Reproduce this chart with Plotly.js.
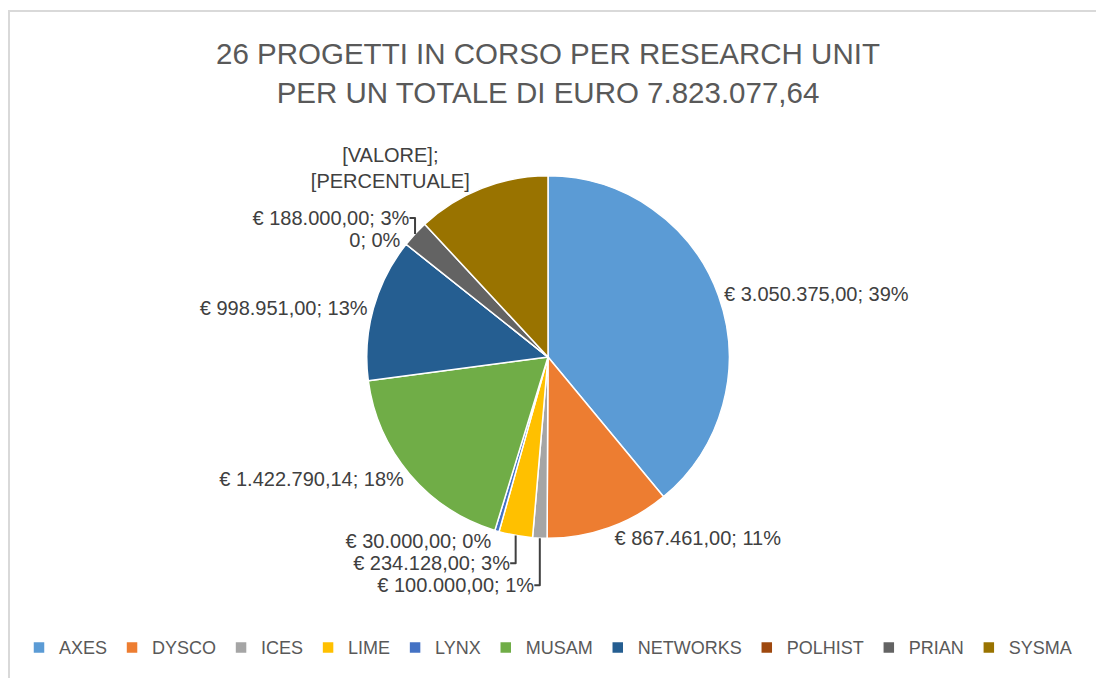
<!DOCTYPE html>
<html>
<head>
<meta charset="utf-8">
<script src="https://cdn.plot.ly/plotly-3.0.1.min.js"></script>
<style>
  html, body { margin: 0; padding: 0; background: #ffffff; }
  #wrap { position: relative; width: 1096px; height: 678px; overflow: hidden; }
  #frame { position: absolute; left: 8px; top: 10px; width: 1200px; height: 800px; border: 2px solid #d9d9d9; box-sizing: border-box; }
  #chart { position: absolute; left: 0; top: 0; width: 1096px; height: 678px; }
</style>
</head>
<body>
<div id="wrap">
  <div id="frame"></div>
  <div id="chart"></div>
</div>
<script>
// Research units (categories)
const units = ["AXES", "DYSCO", "ICES", "LIME", "LYNX", "MUSAM", "NETWORKS", "POLHIST", "PRIAN", "SYSMA"];
// Funding in euro per unit (SYSMA not printed: total minus the others)
const amounts = [3050375.00, 867461.00, 100000.00, 234128.00, 30000.00, 1422790.14, 998951.00, 0, 188000.00, 931372.50];
// Percentages as printed on the chart labels (SYSMA shows a placeholder)
const shownPercent = [39, 11, 1, 3, 0, 18, 13, 0, 3, null];
const colors = ["#5B9BD5", "#ED7D31", "#A5A5A5", "#FFC000", "#4472C4", "#70AD47", "#255E91", "#9E480E", "#636363", "#997300"];
const titleLines = ["26 PROGETTI IN CORSO PER RESEARCH UNIT", "PER UN TOTALE DI EURO 7.823.077,64"];

function euro(v) {
  if (v === 0) return "0";
  const parts = v.toFixed(2).split(".");
  const intPart = parts[0].replace(/\B(?=(\d{3})+(?!\d))/g, ".");
  return "€ " + intPart + "," + parts[1];
}
const labelText = amounts.map((v, i) =>
  shownPercent[i] === null ? "[VALORE];<br>[PERCENTUALE]" : euro(v) + "; " + shownPercent[i] + "%"
);

const FONT = "Liberation Sans, Arial, sans-serif";

const trace = {
  type: "pie",
  labels: units,
  values: amounts,
  text: labelText,
  textinfo: "text",
  textposition: "outside",
  sort: false,
  direction: "clockwise",
  rotation: 0,
  marker: { colors: colors, line: { color: "#ffffff", width: 1.5 } },
  outsidetextfont: { family: FONT, size: 20, color: "#404040" },
  hoverinfo: "label+value+percent",
  domain: { x: [0.15, 0.85], y: [0.185, 0.755] }
};

const layout = {
  width: 1096,
  height: 678,
  margin: { l: 20, r: 20, t: 20, b: 20 },
  paper_bgcolor: "rgba(0,0,0,0)",
  plot_bgcolor: "rgba(0,0,0,0)",
  title: {
    text: titleLines.join("<br>"),
    font: { family: FONT, size: 29.5, color: "#595959" },
    x: 0.5, xanchor: "center",
    y: 0.905, yanchor: "top"
  },
  showlegend: true,
  legend: {
    orientation: "h",
    x: 0.5, xanchor: "center",
    y: 0.013, yanchor: "middle",
    font: { family: FONT, size: 18, color: "#595959" },
    traceorder: "normal",
    itemwidth: 30
  }
};

Plotly.newPlot("chart", [trace], layout, { displayModeBar: false, staticPlot: true });
</script>
</body>
</html>
